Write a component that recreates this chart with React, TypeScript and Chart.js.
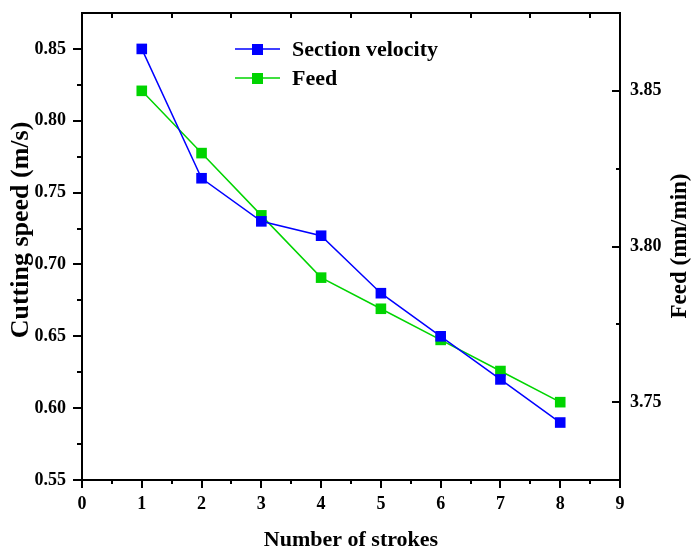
import React, { useEffect, useRef } from 'react';
import { Chart, registerables } from 'chart.js';

Chart.register(...registerables);

const strokes = [1, 2, 3, 4, 5, 6, 7, 8];
const sectionVelocity = [0.85, 0.76, 0.73, 0.72, 0.68, 0.65, 0.62, 0.59];
const feed = [3.85, 3.83, 3.81, 3.79, 3.78, 3.77, 3.76, 3.75];

const xMajorTicks = [0, 1, 2, 3, 4, 5, 6, 7, 8, 9];
const xMinorTicks = [0.5, 1.5, 2.5, 3.5, 4.5, 5.5, 6.5, 7.5, 8.5];
const leftMajorTicks = [0.55, 0.6, 0.65, 0.7, 0.75, 0.8, 0.85];
const leftMinorTicks = [0.575, 0.625, 0.675, 0.725, 0.775, 0.825];
const rightMajorTicks = [3.75, 3.8, 3.85];
const rightMinorTicks = [3.775, 3.825];

const X_MIN = 0, X_MAX = 9;
const L_MIN = 0.55, L_MAX = 0.875;
const R_MIN = 3.725, R_MAX = 3.875;

const BLUE = '#0000ff';
const GREEN = '#00d400';
const FONT = '"Liberation Serif", "Times New Roman", serif';

const framePlugin = {
  id: 'frameTicks',
  afterDraw(chart: any) {
    const ctx = chart.ctx;
    const { left, right, top, bottom } = chart.chartArea;
    const xs = chart.scales.x;
    const yl = chart.scales.y;
    const yr = chart.scales.y1;
    ctx.save();
    ctx.strokeStyle = '#000';
    ctx.lineWidth = 2;
    ctx.beginPath();
    ctx.moveTo(left - 1, top);
    ctx.lineTo(right + 1, top);
    ctx.stroke();
    ctx.beginPath();
    xMajorTicks.forEach((v) => {
      const p = Math.round(xs.getPixelForValue(v));
      ctx.moveTo(p, bottom);
      ctx.lineTo(p, bottom + 8);
    });
    xMinorTicks.forEach((v) => {
      const p = Math.round(xs.getPixelForValue(v));
      ctx.moveTo(p, bottom);
      ctx.lineTo(p, bottom + 4);
      ctx.moveTo(p, top);
      ctx.lineTo(p, top + 5);
    });
    leftMajorTicks.forEach((v) => {
      const p = Math.round(yl.getPixelForValue(v));
      ctx.moveTo(left - 9, p);
      ctx.lineTo(left, p);
    });
    leftMinorTicks.forEach((v) => {
      const p = Math.round(yl.getPixelForValue(v));
      ctx.moveTo(left - 5, p);
      ctx.lineTo(left, p);
    });
    rightMajorTicks.forEach((v) => {
      const p = Math.round(yr.getPixelForValue(v));
      ctx.moveTo(right - 8, p);
      ctx.lineTo(right, p);
    });
    rightMinorTicks.forEach((v) => {
      const p = Math.round(yr.getPixelForValue(v));
      ctx.moveTo(right - 4, p);
      ctx.lineTo(right, p);
    });
    ctx.stroke();

    // axis titles
    ctx.fillStyle = '#000';
    ctx.textAlign = 'center';
    ctx.textBaseline = 'middle';
    ctx.font = `bold 22px ${FONT}`;
    ctx.fillText('Number of strokes', (left + right) / 2, 540);
    ctx.save();
    ctx.font = `bold 26px ${FONT}`;
    ctx.translate(21, 230);
    ctx.rotate(-Math.PI / 2);
    ctx.fillText('Cutting speed (m/s)', 0, 0);
    ctx.restore();
    ctx.save();
    ctx.font = `bold 23px ${FONT}`;
    ctx.translate(680, 246);
    ctx.rotate(-Math.PI / 2);
    ctx.fillText('Feed (mn/min)', 0, 0);
    ctx.restore();

    // legend
    const rows = [49, 78];
    chart.data.datasets.forEach((ds: any, i: number) => {
      const y = rows[i];
      ctx.strokeStyle = ds.borderColor;
      ctx.lineWidth = 1.5;
      ctx.beginPath();
      ctx.moveTo(235, y);
      ctx.lineTo(280, y);
      ctx.stroke();
      ctx.fillStyle = ds.backgroundColor;
      ctx.fillRect(252, y - 5, 11, 11);
      ctx.fillStyle = '#000';
      ctx.textAlign = 'left';
      ctx.font = `bold 22px ${FONT}`;
      ctx.fillText(ds.label, 292, y + 1);
    });
    ctx.restore();
  },
};

export default function App() {
  const ref = useRef<HTMLCanvasElement | null>(null);
  useEffect(() => {
    if (!ref.current) return;
    const tickFont = { family: FONT, size: 18, weight: 'bold' as const };
    const noPad = (s: any) => {
      s.paddingTop = 0;
      s.paddingBottom = 0;
      s.paddingLeft = 0;
      s.paddingRight = 0;
    };
    const chart = new Chart(ref.current, {
      type: 'line',
      data: {
        datasets: [
          {
            label: 'Section velocity',
            data: strokes.map((x, i) => ({ x, y: sectionVelocity[i] })),
            borderColor: BLUE,
            backgroundColor: BLUE,
            borderWidth: 1.5,
            pointStyle: 'rect',
            pointRadius: 7.5,
            pointBorderWidth: 0,
            yAxisID: 'y',
          },
          {
            label: 'Feed',
            data: strokes.map((x, i) => ({ x, y: feed[i] })),
            borderColor: GREEN,
            backgroundColor: GREEN,
            borderWidth: 1.5,
            pointStyle: 'rect',
            pointRadius: 7.5,
            pointBorderWidth: 0,
            yAxisID: 'y1',
          },
        ],
      },
      options: {
        animation: false,
        responsive: true,
        maintainAspectRatio: false,
        layout: { padding: { top: 13, left: 0, right: 0, bottom: 0 } },
        plugins: { legend: { display: false }, tooltip: { enabled: false } },
        scales: {
          x: {
            type: 'linear',
            min: X_MIN,
            max: X_MAX,
            grid: { display: false, drawTicks: false },
            border: { display: true, color: '#000', width: 2 },
            afterBuildTicks: (s: any) => { s.ticks = xMajorTicks.map((v) => ({ value: v })); },
            afterFit: (s: any) => { s.height = 68; noPad(s); },
            ticks: { font: tickFont, color: '#000', padding: 14, maxRotation: 0, callback: (v: any) => String(v) },
          },
          y: {
            type: 'linear',
            position: 'left',
            min: L_MIN,
            max: L_MAX,
            grid: { display: false, drawTicks: false },
            border: { display: true, color: '#000', width: 2 },
            afterBuildTicks: (s: any) => { s.ticks = leftMajorTicks.map((v) => ({ value: v })); },
            afterFit: (s: any) => { s.width = 82; noPad(s); },
            ticks: { font: tickFont, color: '#000', padding: 16, callback: (v: any) => Number(v).toFixed(2) },
          },
          y1: {
            type: 'linear',
            position: 'right',
            min: R_MIN,
            max: R_MAX,
            grid: { display: false, drawTicks: false },
            border: { display: true, color: '#000', width: 2 },
            afterBuildTicks: (s: any) => { s.ticks = rightMajorTicks.map((v) => ({ value: v })); },
            afterFit: (s: any) => { s.width = 71; noPad(s); },
            ticks: { font: tickFont, color: '#000', padding: 10, callback: (v: any) => Number(v).toFixed(2) },
          },
        },
      },
      plugins: [framePlugin],
    });
    return () => chart.destroy();
  }, []);
  return (
    <div style={{ position: 'fixed', left: 0, top: 0, width: 691, height: 548, background: '#fff' }}>
      <canvas ref={ref} />
    </div>
  );
}
